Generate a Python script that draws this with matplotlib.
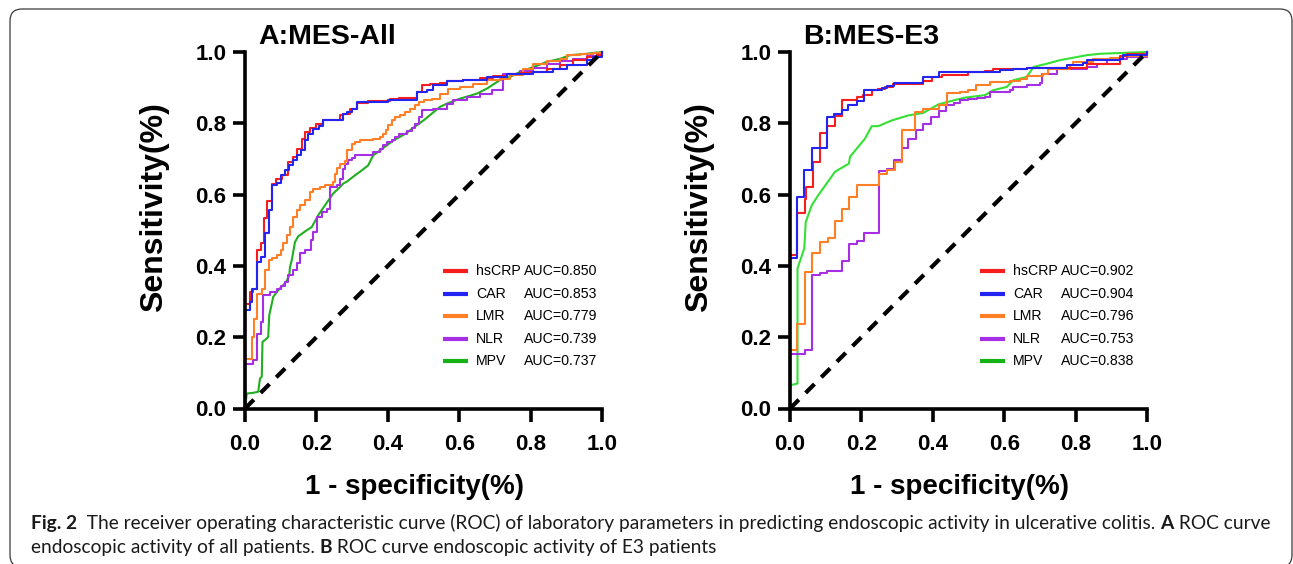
import matplotlib
matplotlib.use("Agg")
import matplotlib.pyplot as plt
from matplotlib.patches import FancyBboxPatch
from matplotlib.transforms import IdentityTransform
from matplotlib.ticker import FormatStrFormatter
from matplotlib import font_manager as fm

# ---------------- data ----------------
markers = ["hsCRP", "CAR", "LMR", "NLR", "MPV"]
auc_A = ["0.850", "0.853", "0.779", "0.739", "0.737"]
auc_B = ["0.902", "0.904", "0.796", "0.753", "0.838"]
ticks = [0.0, 0.2, 0.4, 0.6, 0.8, 1.0]

# Panel A (all patients)
A_hsCRP_fpr = [0, 0.014, 0.023, 0.035, 0.044, 0.053, 0.061, 0.075, 0.087, 0.103, 0.121, 0.134, 0.145, 0.159,
               0.168, 0.182, 0.199, 0.219, 0.266, 0.275, 0.294, 0.313, 0.345, 0.406, 0.430, 0.481, 0.495, 0.518,
               0.546, 0.565, 0.612, 0.658, 0.696, 0.733, 0.770, 0.798, 0.845, 0.883, 0.920, 0.957, 0.985, 1.0, 1.0]
A_hsCRP_tpr = [0, 0.294, 0.327, 0.336, 0.444, 0.464, 0.533, 0.581, 0.631, 0.645, 0.654, 0.692, 0.706, 0.729,
               0.757, 0.776, 0.788, 0.799, 0.810, 0.822, 0.827, 0.841, 0.857, 0.863, 0.869, 0.872, 0.888, 0.907,
               0.911, 0.913, 0.918, 0.922, 0.927, 0.933, 0.939, 0.942, 0.944, 0.953, 0.963, 0.977, 0.986, 0.991, 1.0]

A_CAR_fpr = [0, 0.014, 0.021, 0.035, 0.044, 0.056, 0.068, 0.077, 0.089, 0.100, 0.112, 0.124, 0.135, 0.145,
             0.156, 0.168, 0.177, 0.191, 0.208, 0.219, 0.266, 0.275, 0.285, 0.299, 0.313, 0.401, 0.481, 0.509,
             0.527, 0.565, 0.612, 0.677, 0.733, 0.808, 0.864, 0.901, 0.957, 0.976, 1.0, 1.0]
A_CAR_tpr = [0, 0.276, 0.299, 0.336, 0.411, 0.425, 0.491, 0.556, 0.626, 0.633, 0.654, 0.668, 0.682, 0.698,
             0.710, 0.724, 0.752, 0.771, 0.785, 0.792, 0.808, 0.810, 0.825, 0.832, 0.841, 0.860, 0.866, 0.888,
             0.893, 0.907, 0.919, 0.922, 0.930, 0.939, 0.944, 0.953, 0.963, 0.977, 0.986, 1.0]

A_LMR_fpr = [0, 0.019, 0.025, 0.035, 0.047, 0.056, 0.068, 0.075, 0.089, 0.100, 0.107, 0.117, 0.126, 0.135,
             0.145, 0.154, 0.168, 0.182, 0.191, 0.210, 0.224, 0.247, 0.252, 0.259, 0.266, 0.280, 0.287, 0.299,
             0.308, 0.322, 0.341, 0.359, 0.378, 0.387, 0.395, 0.401, 0.411, 0.420, 0.434, 0.448, 0.462, 0.476,
             0.486, 0.500, 0.523, 0.546, 0.570, 0.602, 0.640, 0.677, 0.714, 0.742, 0.780, 0.808, 0.845, 0.883,
             0.901, 0.938, 0.976, 1.0, 1.0]
A_LMR_tpr = [0, 0.140, 0.201, 0.252, 0.322, 0.336, 0.388, 0.416, 0.423, 0.430, 0.446, 0.463, 0.486, 0.509,
             0.537, 0.556, 0.572, 0.584, 0.607, 0.615, 0.621, 0.626, 0.636, 0.659, 0.676, 0.687, 0.694, 0.724,
             0.743, 0.748, 0.752, 0.754, 0.757, 0.762, 0.771, 0.780, 0.794, 0.808, 0.818, 0.822, 0.832, 0.841,
             0.850, 0.860, 0.864, 0.869, 0.883, 0.897, 0.902, 0.911, 0.921, 0.925, 0.935, 0.953, 0.967, 0.975,
             0.981, 0.991, 0.993, 0.997, 1.0]

A_NLR_fpr = [0, 0.023, 0.035, 0.044, 0.051, 0.070, 0.089, 0.100, 0.112, 0.121, 0.135, 0.145, 0.154, 0.168,
             0.184, 0.191, 0.203, 0.215, 0.231, 0.238, 0.257, 0.266, 0.274, 0.280, 0.289, 0.299, 0.308, 0.350,
             0.359, 0.378, 0.387, 0.397, 0.411, 0.420, 0.430, 0.453, 0.467, 0.476, 0.486, 0.495, 0.527, 0.565,
             0.584, 0.621, 0.658, 0.691, 0.724, 0.770, 0.808, 0.845, 0.883, 0.920, 0.957, 0.985, 1.0, 1.0]
A_NLR_tpr = [0, 0.126, 0.136, 0.210, 0.243, 0.318, 0.327, 0.336, 0.343, 0.355, 0.374, 0.388, 0.407, 0.435,
             0.444, 0.472, 0.495, 0.537, 0.551, 0.561, 0.621, 0.626, 0.645, 0.673, 0.687, 0.698, 0.704, 0.710,
             0.712, 0.720, 0.729, 0.738, 0.748, 0.752, 0.762, 0.769, 0.779, 0.788, 0.799, 0.818, 0.836, 0.841,
             0.855, 0.864, 0.874, 0.883, 0.893, 0.939, 0.946, 0.955, 0.965, 0.975, 0.981, 0.988, 0.993, 1.0]

A_MPV_fpr = [0, 0.005, 0.023, 0.037, 0.042, 0.047, 0.049, 0.056, 0.065, 0.068, 0.075, 0.079, 0.093, 0.107,
             0.117, 0.124, 0.126, 0.131, 0.140, 0.149, 0.173, 0.187, 0.205, 0.224, 0.247, 0.266, 0.275, 0.285,
             0.308, 0.322, 0.345, 0.359, 0.369, 0.397, 0.416, 0.434, 0.453, 0.472, 0.500, 0.523, 0.546, 0.565,
             0.602, 0.649, 0.677, 0.714, 0.742, 0.770, 0.808, 0.845, 0.883, 0.910, 0.957, 1.0]
A_MPV_tpr = [0, 0.042, 0.044, 0.047, 0.084, 0.089, 0.187, 0.192, 0.201, 0.262, 0.294, 0.313, 0.332, 0.346,
             0.358, 0.374, 0.397, 0.416, 0.467, 0.483, 0.500, 0.509, 0.542, 0.570, 0.603, 0.621, 0.631, 0.636,
             0.654, 0.664, 0.682, 0.710, 0.717, 0.738, 0.752, 0.762, 0.773, 0.788, 0.808, 0.827, 0.846, 0.855,
             0.869, 0.883, 0.897, 0.921, 0.930, 0.944, 0.958, 0.972, 0.981, 0.991, 0.995, 1.0]

# Panel B (E3 patients)
B_hsCRP_fpr = [0, 0.019, 0.042, 0.044, 0.065, 0.084, 0.103, 0.126, 0.147, 0.187, 0.205, 0.231, 0.247, 0.266,
               0.289, 0.373, 0.397, 0.425, 0.500, 0.546, 0.570, 0.663, 0.831, 0.924, 0.943, 1.0, 1.0]
B_hsCRP_tpr = [0, 0.430, 0.547, 0.589, 0.621, 0.692, 0.773, 0.792, 0.820, 0.866, 0.874, 0.879, 0.893, 0.897,
               0.902, 0.911, 0.919, 0.930, 0.935, 0.944, 0.947, 0.953, 0.956, 0.967, 0.988, 0.995, 1.0]

B_CAR_fpr = [0, 0.021, 0.040, 0.063, 0.103, 0.124, 0.147, 0.163, 0.187, 0.208, 0.231, 0.257, 0.271, 0.292,
             0.373, 0.416, 0.588, 0.626, 0.663, 0.775, 0.821, 0.831, 0.924, 0.934, 1.0, 1.0]
B_CAR_tpr = [0, 0.421, 0.593, 0.668, 0.732, 0.818, 0.827, 0.836, 0.850, 0.863, 0.893, 0.894, 0.900, 0.904,
             0.913, 0.930, 0.944, 0.949, 0.953, 0.956, 0.963, 0.969, 0.977, 0.981, 0.991, 1.0]

B_LMR_fpr = [0, 0.019, 0.042, 0.061, 0.084, 0.106, 0.126, 0.147, 0.165, 0.187, 0.249, 0.271, 0.294, 0.313,
             0.350, 0.373, 0.416, 0.439, 0.476, 0.500, 0.520, 0.560, 0.616, 0.644, 0.663, 0.710, 0.724, 0.784,
             0.793, 0.849, 0.896, 0.934, 1.0, 1.0]
B_LMR_tpr = [0, 0.165, 0.236, 0.383, 0.435, 0.467, 0.479, 0.526, 0.561, 0.592, 0.626, 0.659, 0.668, 0.692,
             0.782, 0.832, 0.841, 0.850, 0.885, 0.888, 0.893, 0.907, 0.916, 0.919, 0.925, 0.932, 0.939, 0.953,
             0.963, 0.972, 0.981, 0.984, 0.988, 1.0]

B_NLR_fpr = [0, 0.042, 0.063, 0.084, 0.103, 0.147, 0.165, 0.187, 0.208, 0.249, 0.271, 0.292, 0.313, 0.331,
             0.352, 0.373, 0.395, 0.416, 0.436, 0.458, 0.476, 0.498, 0.523, 0.546, 0.560, 0.616, 0.626, 0.663,
             0.700, 0.705, 0.747, 0.831, 0.859, 0.887, 0.924, 0.943, 1.0, 1.0]
B_NLR_tpr = [0, 0.154, 0.165, 0.374, 0.380, 0.386, 0.414, 0.461, 0.470, 0.491, 0.666, 0.673, 0.698, 0.732,
             0.757, 0.782, 0.799, 0.818, 0.835, 0.850, 0.857, 0.864, 0.869, 0.872, 0.874, 0.888, 0.894, 0.902,
             0.907, 0.913, 0.939, 0.953, 0.958, 0.967, 0.977, 0.981, 0.986, 1.0]

B_MPV_fpr = [0, 0, 0.021, 0.021, 0.040, 0.044, 0.061, 0.079, 0.126, 0.165, 0.168, 0.210, 0.229, 0.247, 0.285,
             0.331, 0.373, 0.416, 0.453, 0.490, 0.546, 0.570, 0.607, 0.626, 0.663, 0.682, 0.719, 0.756, 0.831,
             0.868, 1.0]
B_MPV_tpr = [0, 0.065, 0.070, 0.393, 0.449, 0.523, 0.570, 0.598, 0.664, 0.687, 0.706, 0.757, 0.792, 0.792,
             0.808, 0.822, 0.829, 0.853, 0.863, 0.872, 0.879, 0.893, 0.902, 0.921, 0.930, 0.958, 0.967, 0.977,
             0.991, 0.995, 1.0]

# ---------------- style ----------------
C_RED, C_BLUE, C_ORANGE, C_PURPLE = "#F51D1D", "#2323F2", "#FF7F27", "#A62FE6"
C_GREEN_A, C_GREEN_B, C_GREEN_LEG = "#1FAF1F", "#35E035", "#15B215"
leg_colors = [C_RED, C_BLUE, C_ORANGE, C_PURPLE, C_GREEN_LEG]

plt.rcParams["font.family"] = ["Liberation Sans", "DejaVu Sans"]

W, H = 1293, 564
fig = plt.figure(figsize=(W / 100, H / 100), dpi=100)
fig.patch.set_facecolor("white")

# rounded frame around the whole figure
frame = FancyBboxPatch((10, -3), 1282, 558, boxstyle="round,pad=0,rounding_size=12",
                       transform=IdentityTransform(), fill=False, edgecolor="#3a3a3a",
                       linewidth=0.9)
fig.patches.append(frame)
frame.set_figure(fig)


def make_axes(left_px):
    ax = fig.add_axes([left_px / W, (H - 408.5) / H, 357 / W, 356.5 / H])
    ax.set_xlim(0, 1)
    ax.set_ylim(0, 1)
    for s in ("top", "right"):
        ax.spines[s].set_visible(False)
    for s in ("left", "bottom"):
        ax.spines[s].set_linewidth(2.6)
        ax.spines[s].set_zorder(5)
    ax.set_xticks(ticks)
    ax.set_yticks(ticks)
    ax.xaxis.set_major_formatter(FormatStrFormatter("%.1f"))
    ax.yaxis.set_major_formatter(FormatStrFormatter("%.1f"))
    ax.tick_params(axis="both", direction="out", length=9, width=2.6, labelsize=16)
    ax.tick_params(axis="x", pad=9)
    ax.tick_params(axis="y", pad=4.5)
    for lab in ax.get_xticklabels() + ax.get_yticklabels():
        lab.set_fontweight("bold")
    ax.set_xlabel("1 - specificity(%)", fontsize=20, fontweight="bold")
    ax.set_ylabel("Sensitivity(%)", fontsize=23, fontweight="bold")
    ax.xaxis.set_label_coords(0.475, -0.185)
    ax.yaxis.set_label_coords(-0.212, 0.565)
    return ax


def draw_panel(ax, curves, green_color, title, title_x, aucs, leg_x):
    # diagonal reference line
    ax.plot([0, 1], [0, 1], color="black", lw=3, dashes=(3.0, 2.3), zorder=4, clip_on=False)
    fpr, tpr = curves["MPV"]
    ax.plot(fpr, tpr, color=green_color, lw=1.5, zorder=2, clip_on=False)
    order = [("NLR", C_PURPLE), ("LMR", C_ORANGE), ("hsCRP", C_RED), ("CAR", C_BLUE)]
    for name, col in order:
        fpr, tpr = curves[name]
        ax.plot(fpr, tpr, color=col, lw=1.5, drawstyle="steps-pre", zorder=3, clip_on=False)
    ax.text(title_x, 1.022, title, transform=ax.transAxes, fontsize=20.5, fontweight="bold",
            ha="left", va="baseline")
    # legend
    y0, dy = 0.386, 0.0635
    for i, (name, auc) in enumerate(zip(markers, aucs)):
        y = y0 - i * dy
        ax.plot([leg_x, leg_x + 0.07], [y, y], transform=ax.transAxes, color=leg_colors[i],
                lw=3, solid_capstyle="butt", zorder=6)
        ax.text(leg_x + 0.092, y, name, transform=ax.transAxes, fontsize=10.2, ha="left",
                va="center", fontweight="normal")
        ax.text(leg_x + 0.226, y, "AUC=" + auc, transform=ax.transAxes, fontsize=10.2, ha="left",
                va="center", fontweight="normal")


axA = make_axes(245)
draw_panel(axA, {"hsCRP": (A_hsCRP_fpr, A_hsCRP_tpr), "CAR": (A_CAR_fpr, A_CAR_tpr),
                 "LMR": (A_LMR_fpr, A_LMR_tpr), "NLR": (A_NLR_fpr, A_NLR_tpr),
                 "MPV": (A_MPV_fpr, A_MPV_tpr)}, C_GREEN_A, "A:MES-All", 0.036, auc_A, 0.555)

axB = make_axes(790)
draw_panel(axB, {"hsCRP": (B_hsCRP_fpr, B_hsCRP_tpr), "CAR": (B_CAR_fpr, B_CAR_tpr),
                 "LMR": (B_LMR_fpr, B_LMR_tpr), "NLR": (B_NLR_fpr, B_NLR_tpr),
                 "MPV": (B_MPV_fpr, B_MPV_tpr)}, C_GREEN_B, "B:MES-E3", 0.036, auc_B, 0.532)

# ---------------- caption ----------------
names = {f.name for f in fm.fontManager.ttflist}
cap_family = "Open Sans"
for cand in ("Liberation Sans Narrow", "Lato"):
    if cand in names:
        cap_family = cand
        break

line1 = [("Fig. 2", "bold"),
         ("  The receiver operating characteristic curve (ROC) of laboratory parameters in predicting "
          "endoscopic activity in ulcerative colitis. ", "normal"),
         ("A", "bold"), (" ROC curve", "normal")]
line2 = [("endoscopic activity of all patients. ", "normal"), ("B", "bold"),
         (" ROC curve endoscopic activity of E3 patients", "normal")]


def chain(pieces, x_px, base_px, size):
    out = []
    prev = None
    for s, w in pieces:
        if prev is None:
            t = fig.text(x_px / W, 1 - base_px / H, s, fontsize=size, fontweight=w,
                         family=cap_family, ha="left", va="baseline", color="#1a1a1a")
        else:
            t = axA.annotate(s, xy=(1, 0), xycoords=prev, fontsize=size, fontweight=w,
                             family=cap_family, ha="left", va="bottom", color="#1a1a1a",
                             annotation_clip=False)
        out.append(t)
        prev = t
    return out


cap_x0, cap_x1 = 31, 1275
trial = chain(line1, cap_x0, 529, 10)
fig.canvas.draw()
r = fig.canvas.get_renderer()
width = trial[-1].get_window_extent(r).x1 - trial[0].get_window_extent(r).x0
for t in trial:
    t.remove()
cap_size = 10 * (cap_x1 - cap_x0) / width
chain(line1, cap_x0, 529, cap_size)
chain(line2, cap_x0, 553, cap_size)

fig.savefig("out.png", dpi=100, facecolor="white")
